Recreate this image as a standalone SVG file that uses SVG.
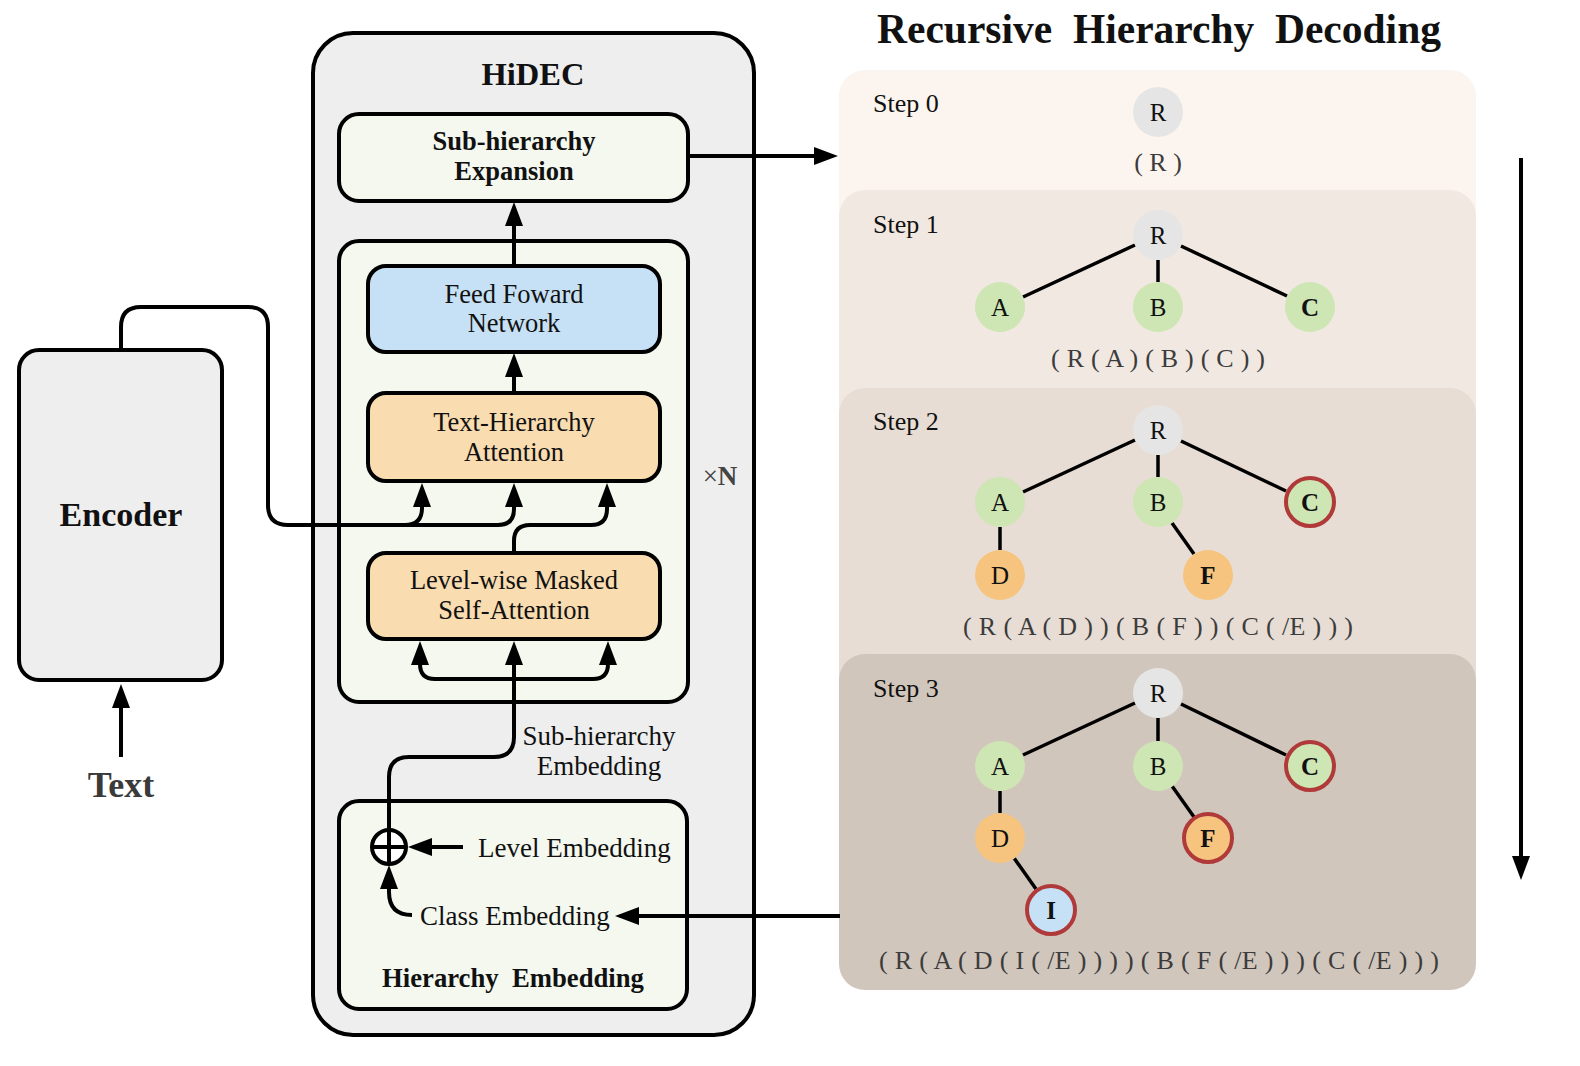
<svg xmlns="http://www.w3.org/2000/svg" width="1580" height="1066" viewBox="0 0 1580 1066">
<style>
text{font-family:"Liberation Serif","Times New Roman",serif;fill:#111;}
.box{stroke:#000;stroke-width:4;}
.conn{fill:none;stroke:#000;stroke-width:4;}
.edge{stroke:#000;stroke-width:3.5;}
.lbl{font-size:26.5px;text-anchor:middle;}
.b{font-weight:bold;}
.seq{font-size:26px;text-anchor:middle;fill:#3c3c3c;}
.step{font-size:26px;}
.nl{font-size:25px;text-anchor:middle;}
.nR{fill:#e5e5e5;}
.nG{fill:#cde6b4;}
.nO{fill:#f6c47f;}
.nB{fill:#c6e1f5;}
.red{stroke:#b03a3a;stroke-width:4;}
</style>
<defs>
<marker id="ah" viewBox="0 0 24 18" refX="12" refY="9" markerWidth="24" markerHeight="18" markerUnits="userSpaceOnUse" orient="auto-start-reverse"><path d="M0,0 L24,9 L0,18 z" fill="#000"/></marker>
</defs>
<rect width="1580" height="1066" fill="#fff"/>

<g id="encoder">
<rect class="box" x="19" y="350" width="203" height="330" rx="20" fill="#eeeeee"/>
<text x="121" y="526" font-size="34" font-weight="bold" text-anchor="middle">Encoder</text>
</g>
<g id="text-input">
<text x="121" y="797" font-size="36" font-weight="bold" text-anchor="middle" style="fill:#3a3a3a">Text</text>
</g>

<g id="hidec">
<rect class="box" x="313" y="33" width="441" height="1002" rx="40" fill="#eeeeee"/>
<text x="533" y="85" font-size="32.5" font-weight="bold" text-anchor="middle">HiDEC</text>
</g>
<g id="sub-hierarchy-expansion">
<rect class="box" x="339" y="114" width="349" height="87" rx="20" fill="#f4f8ef"/>
<text class="lbl b" x="514" y="150">Sub-hierarchy</text>
<text class="lbl b" x="514" y="180">Expansion</text>
</g>
<g id="decoder-layer">
<rect class="box" x="339" y="241" width="349" height="461" rx="20" fill="#f4f8ef"/>
<text x="720" y="485" font-size="27" text-anchor="middle" style="fill:#444">×<tspan font-weight="bold">N</tspan></text>
</g>
<g id="ffn">
<rect class="box" x="368" y="266" width="292" height="86" rx="18" fill="#c6e1f5"/>
<text class="lbl" x="514" y="303">Feed Foward</text>
<text class="lbl" x="514" y="332">Network</text>
</g>
<g id="text-hierarchy-attention">
<rect class="box" x="368" y="393" width="292" height="88" rx="18" fill="#f9dcb0"/>
<text class="lbl" x="514" y="431">Text-Hierarchy</text>
<text class="lbl" x="514" y="461">Attention</text>
</g>
<g id="level-wise-masked-self-attention">
<rect class="box" x="368" y="553" width="292" height="86" rx="18" fill="#f9dcb0"/>
<text class="lbl" x="514" y="589">Level-wise Masked</text>
<text class="lbl" x="514" y="619">Self-Attention</text>
</g>
<g id="sub-hierarchy-embedding-label">
<text x="599" y="745" font-size="27" text-anchor="middle">Sub-hierarchy</text>
<text x="599" y="775" font-size="27" text-anchor="middle">Embedding</text>
</g>
<g id="hierarchy-embedding">
<rect class="box" x="339" y="801" width="348" height="208" rx="20" fill="#f4f8ef"/>
<text x="478" y="857" font-size="27">Level Embedding</text>
<text x="420" y="925" font-size="27">Class Embedding</text>
<text x="513" y="987" font-size="26.7" font-weight="bold" text-anchor="middle" style="white-space:pre" xml:space="preserve">Hierarchy  Embedding</text>
</g>
<g id="plus">
<circle cx="389" cy="847" r="17" fill="#fff" stroke="#000" stroke-width="4"/>
<line x1="372" y1="847" x2="406" y2="847" stroke="#000" stroke-width="4"/>
<line x1="389" y1="830" x2="389" y2="864" stroke="#000" stroke-width="4"/>
</g>

<g id="title">
<text x="877" y="43" font-size="41.5" font-weight="bold" style="white-space:pre" xml:space="preserve">Recursive  Hierarchy  Decoding</text>
</g>

<g id="step0">
<rect x="839" y="70" width="637" height="400" rx="26" fill="#fcf5ef"/>
<text class="step" x="873" y="112">Step 0</text>
<circle class="nR" cx="1158" cy="112" r="25"/>
<text class="nl" x="1158" y="121">R</text>
<text class="seq" x="1158" y="171" style="white-space:pre" xml:space="preserve">( R )</text>
</g>

<g id="step1">
<rect x="839" y="190" width="637" height="400" rx="26" fill="#f1e8e1"/>
<text class="step" x="873" y="233">Step 1</text>
<line class="edge" x1="1135" y1="245" x2="1023" y2="297"/>
<line class="edge" x1="1158" y1="260" x2="1158" y2="282"/>
<line class="edge" x1="1181" y1="246" x2="1287" y2="296"/>
<circle class="nR" cx="1158" cy="235" r="25"/>
<text class="nl" x="1158" y="244">R</text>
<circle class="nG" cx="1000" cy="307" r="25"/>
<text class="nl" x="1000" y="316">A</text>
<circle class="nG" cx="1158" cy="307" r="25"/>
<text class="nl" x="1158" y="316">B</text>
<circle class="nG" cx="1310" cy="307" r="25"/>
<text class="nl b" x="1310" y="316">C</text>
<text class="seq" x="1158" y="367" textLength="214" style="white-space:pre" xml:space="preserve">( R ( A ) ( B ) ( C ) )</text>
</g>

<g id="step2">
<rect x="839" y="388" width="637" height="400" rx="26" fill="#e7ddd4"/>
<text class="step" x="873" y="430">Step 2</text>
<line class="edge" x1="1135" y1="440" x2="1023" y2="492"/>
<line class="edge" x1="1158" y1="455" x2="1158" y2="477"/>
<line class="edge" x1="1181" y1="441" x2="1286" y2="491"/>
<line class="edge" x1="1000" y1="527" x2="1000" y2="550"/>
<line class="edge" x1="1172" y1="523" x2="1194" y2="554"/>
<circle class="nR" cx="1158" cy="430" r="25"/>
<text class="nl" x="1158" y="439">R</text>
<circle class="nG" cx="1000" cy="502" r="25"/>
<text class="nl" x="1000" y="511">A</text>
<circle class="nG" cx="1158" cy="502" r="25"/>
<text class="nl" x="1158" y="511">B</text>
<circle class="nG red" cx="1310" cy="502" r="24"/>
<text class="nl b" x="1310" y="511">C</text>
<circle class="nO" cx="1000" cy="575" r="25"/>
<text class="nl" x="1000" y="584">D</text>
<circle class="nO" cx="1208" cy="575" r="25"/>
<text class="nl b" x="1208" y="584">F</text>
<text class="seq" x="1158" y="635" textLength="390" style="white-space:pre" xml:space="preserve">( R ( A ( D ) ) ( B ( F ) ) ( C ( /E ) ) )</text>
</g>

<g id="step3">
<rect x="839" y="654" width="637" height="336" rx="26" fill="#d1c6bc"/>
<text class="step" x="873" y="697">Step 3</text>
<line class="edge" x1="1135" y1="703" x2="1023" y2="755"/>
<line class="edge" x1="1158" y1="718" x2="1158" y2="741"/>
<line class="edge" x1="1181" y1="704" x2="1286" y2="755"/>
<line class="edge" x1="1000" y1="791" x2="1000" y2="813"/>
<line class="edge" x1="1172" y1="786" x2="1194" y2="817"/>
<line class="edge" x1="1014" y1="858" x2="1036" y2="889"/>
<circle class="nR" cx="1158" cy="693" r="25"/>
<text class="nl" x="1158" y="702">R</text>
<circle class="nG" cx="1000" cy="766" r="25"/>
<text class="nl" x="1000" y="775">A</text>
<circle class="nG" cx="1158" cy="766" r="25"/>
<text class="nl" x="1158" y="775">B</text>
<circle class="nG red" cx="1310" cy="766" r="24"/>
<text class="nl b" x="1310" y="775">C</text>
<circle class="nO" cx="1000" cy="838" r="25"/>
<text class="nl" x="1000" y="847">D</text>
<circle class="nO red" cx="1208" cy="838" r="24"/>
<text class="nl b" x="1208" y="847">F</text>
<circle class="nB red" cx="1051" cy="910" r="24"/>
<text class="nl b" x="1051" y="919">I</text>
<text class="seq" x="1159" y="969" textLength="560" style="white-space:pre" xml:space="preserve">( R ( A ( D ( I ( /E ) ) ) ) ( B ( F ( /E ) ) ) ( C ( /E ) ) )</text>
</g>

<g id="connectors">
<path class="conn" d="M121,757 V696" marker-end="url(#ah)"/>
<path class="conn" d="M121,350 V327 Q121,307 141,307 H248 Q268,307 268,327 V505 Q268,525 288,525 H498 Q514,525 514,509 V495" marker-end="url(#ah)"/>
<path class="conn" d="M405,525 Q422,525 422,508 V495" marker-end="url(#ah)"/>
<path class="conn" d="M514,553 V541 Q514,525 530,525 H591 Q607,525 607,509 V495" marker-end="url(#ah)"/>
<path class="conn" d="M514,393 V365" marker-end="url(#ah)"/>
<path class="conn" d="M514,266 V214" marker-end="url(#ah)"/>
<path class="conn" d="M688,156 H826" marker-end="url(#ah)"/>
<path class="conn" d="M389,830 V777 Q389,757 409,757 H494 Q514,757 514,737 V653" marker-end="url(#ah)"/>
<path class="conn" d="M420,653 V664 Q420,679 435,679 H593 Q608,679 608,664 V653" marker-start="url(#ah)" marker-end="url(#ah)"/>
<path class="conn" d="M463,847 H420" marker-end="url(#ah)"/>
<path class="conn" d="M412,915 Q389,915 389,892 V877" marker-end="url(#ah)"/>
<path class="conn" d="M840,916 H627" marker-end="url(#ah)"/>
<path class="conn" d="M1521,158 V868" marker-end="url(#ah)"/>
</g>
</svg>
